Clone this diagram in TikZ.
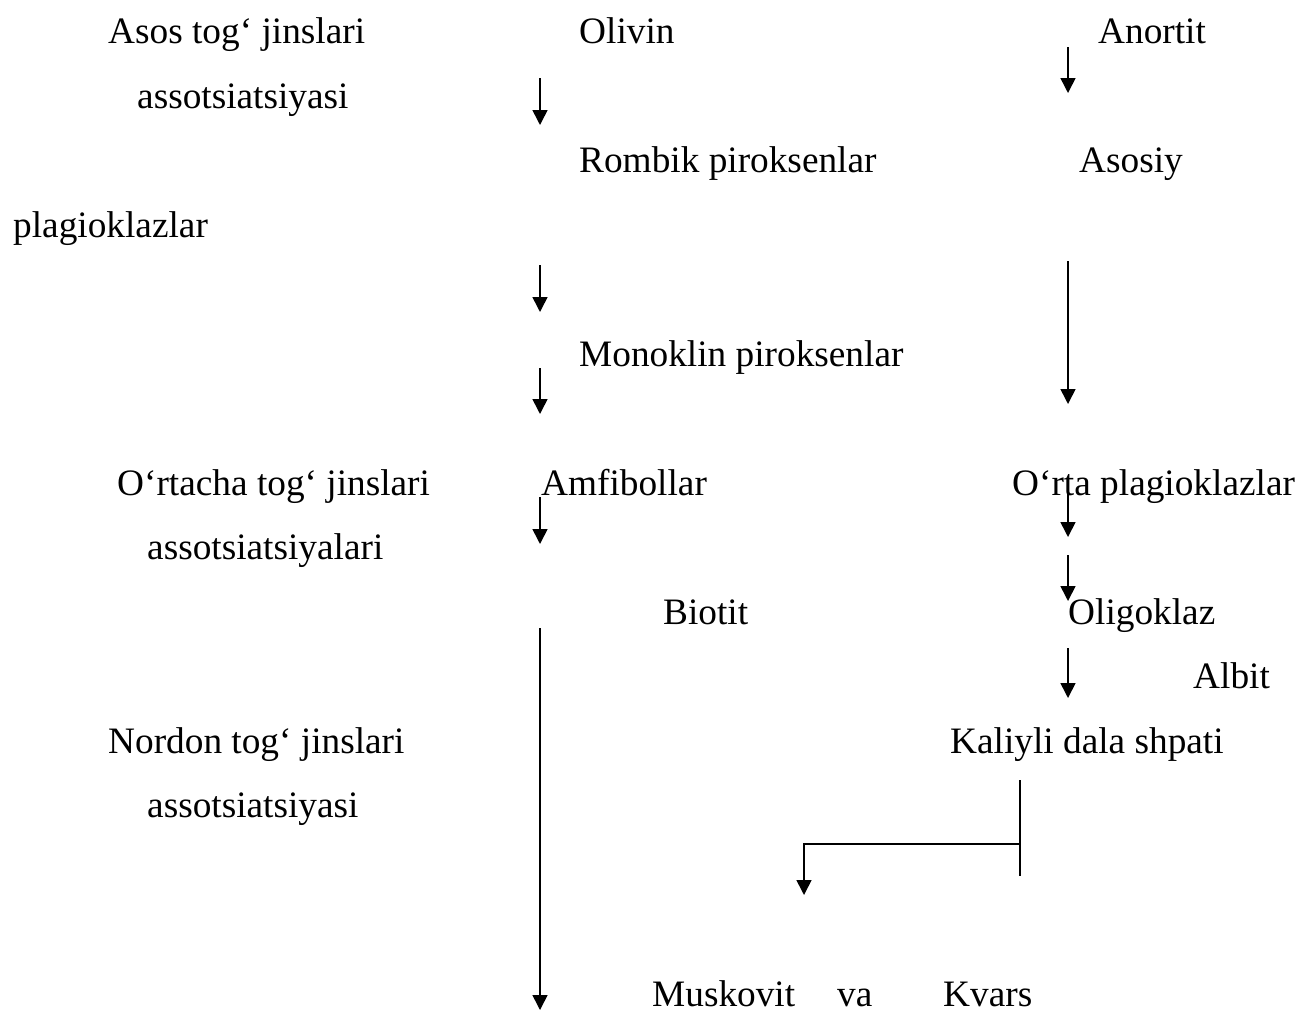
\documentclass[tikz,border=0pt]{standalone}
\usepackage{fontspec}
\setmainfont{Liberation Serif}
\usetikzlibrary{arrows.meta}
\begin{document}
\begin{tikzpicture}[
        x=1pt,
        y=-1pt,
        lbl/.style={
            anchor=base west,
            inner sep=0pt,
            font=\fontsize{37.3}{44}\selectfont
        },
        arrow/.style={
            -{Triangle[length=15pt,width=15pt]},
            line width=1.6pt
        },
        bar/.style={
            line width=1.6pt
        }
    ]
        \useasboundingbox (0,0) rectangle (1314,1012);

        % left column
        \node[lbl] (asos1) at (108,43) {Asos tog‘ jinslari};
        \node[lbl] (asos2) at (137,108) {assotsiatsiyasi};
        \node[lbl] (plagio) at (13,237) {plagioklazlar};
        \node[lbl] (ortacha1) at (117,495) {O‘rtacha tog‘ jinslari};
        \node[lbl] (ortacha2) at (147,559) {assotsiatsiyalari};
        \node[lbl] (nordon1) at (108,753) {Nordon tog‘ jinslari};
        \node[lbl] (nordon2) at (147,817) {assotsiatsiyasi};

        % middle column
        \node[lbl] (olivin) at (579,43) {Olivin};
        \node[lbl] (rombik) at (579,172) {Rombik piroksenlar};
        \node[lbl] (monoklin) at (579,366) {Monoklin piroksenlar};
        \node[lbl] (amfi) at (541,495) {Amfibollar};
        \node[lbl] (biotit) at (663,624) {Biotit};
        \node[lbl] (musk) at (652,1006) {Muskovit};
        \node[lbl] (va) at (837,1006) {va};
        \node[lbl] (kvars) at (943,1006) {Kvars};

        % right column
        \node[lbl] (anortit) at (1098,43) {Anortit};
        \node[lbl] (asosiy) at (1079,172) {Asosiy};
        \node[lbl] (orta) at (1012,495) {O‘rta plagioklazlar};
        \node[lbl] (oligo) at (1068,624) {Oligoklaz};
        \node[lbl] (albit) at (1193,688) {Albit};
        \node[lbl] (kaliy) at (950,753) {Kaliyli dala shpati};

        % arrow ends
        \coordinate (m1a) at (540,78);
        \coordinate (m1b) at (540,125);
        \coordinate (m2a) at (540,265);
        \coordinate (m2b) at (540,312);
        \coordinate (m3a) at (540,368);
        \coordinate (m3b) at (540,414);
        \coordinate (m4a) at (540,497);
        \coordinate (m4b) at (540,544);
        \coordinate (m5a) at (540,628);
        \coordinate (m5b) at (540,1010);
        \coordinate (r1a) at (1068,47);
        \coordinate (r1b) at (1068,93);
        \coordinate (r2a) at (1068,261);
        \coordinate (r2b) at (1068,404);
        \coordinate (r3a) at (1068,488);
        \coordinate (r3b) at (1068,537);
        \coordinate (r4a) at (1068,555);
        \coordinate (r4b) at (1068,601);
        \coordinate (r5a) at (1068,648);
        \coordinate (r5b) at (1068,698);
        \coordinate (kTop) at (1020,780);
        \coordinate (kBot) at (1020,876);
        \coordinate (kMid) at (1020,844);
        \coordinate (kTurn) at (804,844);
        \coordinate (kEnd) at (804,895);

        \draw[arrow] (m1a) -- (m1b);
        \draw[arrow] (m2a) -- (m2b);
        \draw[arrow] (m3a) -- (m3b);
        \draw[arrow] (m4a) -- (m4b);
        \draw[arrow] (m5a) -- (m5b);
        \draw[arrow] (r1a) -- (r1b);
        \draw[arrow] (r2a) -- (r2b);
        \draw[arrow] (r3a) -- (r3b);
        \draw[arrow] (r4a) -- (r4b);
        \draw[arrow] (r5a) -- (r5b);
        \draw[bar] (kTop) -- (kBot);
        \draw[arrow] (kMid) -- (kTurn) -- (kEnd);

\end{tikzpicture}
\end{document}
